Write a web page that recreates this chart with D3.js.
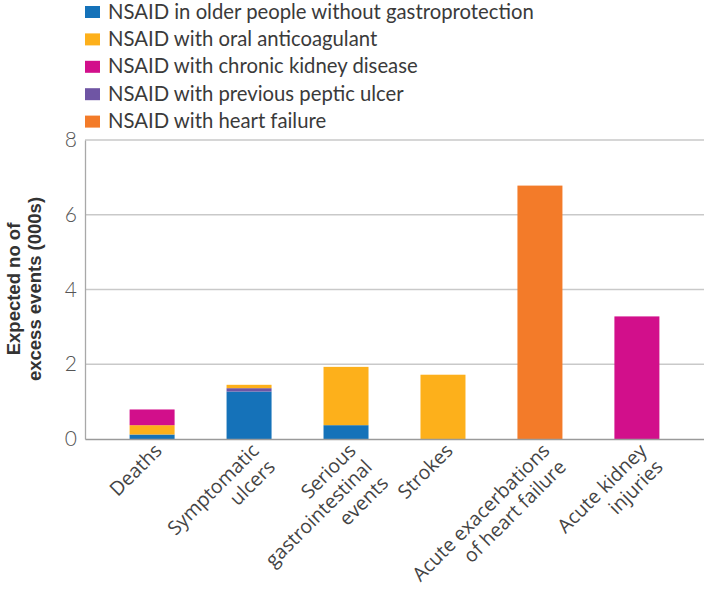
<!DOCTYPE html>
<html>
<head>
<meta charset="utf-8">
<script src="https://cdn.jsdelivr.net/npm/d3@7"></script>
<style>
  html, body { margin: 0; padding: 0; background: #fff; }
  svg { display: block; }
</style>
</head>
<body>
<svg id="chart" width="704" height="602"></svg>
<script>
// ---- data ----
const categories = ["Deaths", "Symptomatic ulcers", "Serious gastrointestinal events", "Strokes", "Acute exacerbations of heart failure", "Acute kidney injuries"];
const categoryLabelLines = [["Deaths"], ["Symptomatic", "ulcers"], ["Serious", "gastrointestinal", "events"], ["Strokes"], ["Acute exacerbations", "of heart failure"], ["Acute kidney", "injuries"]];
const seriesNames = ["NSAID in older people without gastroprotection", "NSAID with oral anticoagulant", "NSAID with chronic kidney disease", "NSAID with previous peptic ulcer", "NSAID with heart failure"];
const seriesColors = ["#1572b9", "#fdb01b", "#d20f8b", "#6f55a4", "#f37b29"];
const olderNoGastro = [0.12, 1.27, 0.37, 0, 0, 0];
const oralAnticoagulant = [0.25, 0.09, 1.56, 1.72, 0, 0];
const chronicKidney = [0.42, 0, 0, 0, 0, 3.28];
const pepticUlcer = [0, 0.09, 0, 0, 0, 0];
const heartFailure = [0, 0, 0, 0, 6.78, 0];
const yTicks = [0, 2, 4, 6, 8];
const yTitleLines = ["Expected no of", "excess events (000s)"];
// stacking order bottom -> top
const stackOrder = [0, 3, 1, 2, 4];

const seriesValues = [olderNoGastro, oralAnticoagulant, chronicKidney, pepticUlcer, heartFailure];
const table = categories.map((c, i) => {
  const row = { category: c };
  seriesNames.forEach((s, j) => row[s] = seriesValues[j][i]);
  return row;
});

const svg = d3.select("#chart");
const plotLeft = 85, plotRight = 704, plotTop = 140, plotBottom = 439;

const x = d3.scaleBand().domain(categories).range([plotLeft, plotRight]).paddingInner(0.536).paddingOuter(0.46);
const y = d3.scaleLinear().domain([0, 8]).range([plotBottom, plotTop]);

// gridlines
svg.append("g").selectAll("line").data(yTicks.filter(d => d > 0)).join("line")
  .attr("x1", plotLeft).attr("x2", plotRight)
  .attr("y1", d => y(d)).attr("y2", d => y(d))
  .attr("stroke", "#c9c9c9").attr("stroke-width", 1.3);

// y axis
const yAxis = d3.axisLeft(y).tickValues(yTicks).tickSize(0).tickPadding(8).tickFormat(d3.format("d"));
const yg = svg.append("g").attr("transform", `translate(${plotLeft},0)`).call(yAxis);
yg.select(".domain").attr("stroke", "#a8a8a8").attr("stroke-width", 1.3);
yg.selectAll("text").attr("font-family", "Lato, 'Open Sans', sans-serif").attr("font-size", 21)
  .attr("fill", "#555").attr("font-weight", 300);

// stacked bars
const keys = stackOrder.map(i => seriesNames[i]);
const stacked = d3.stack().keys(keys)(table);
svg.append("g").selectAll("g").data(stacked).join("g")
  .attr("fill", d => seriesColors[seriesNames.indexOf(d.key)])
  .selectAll("rect").data(d => d.filter(p => p[1] - p[0] > 0)).join("rect")
  .attr("x", d => x(d.data.category))
  .attr("width", x.bandwidth())
  .attr("y", d => y(d[1]))
  .attr("height", d => y(d[0]) - y(d[1]));

// baseline (x axis)
const xAxis = d3.axisBottom(x).tickSize(0).tickFormat("");
const xg = svg.append("g").attr("transform", `translate(0,${y(0)})`).call(xAxis);
xg.select(".domain").attr("stroke", "#9a9a9a").attr("stroke-width", 1.5);

// x labels, rotated
const lab = svg.append("g").selectAll("text").data(categories).join("text")
  .attr("transform", d => `translate(${x(d) + x.bandwidth() / 2 + 11},${y(0) + 13}) rotate(-45)`)
  .attr("text-anchor", "end")
  .attr("font-family", "'Open Sans', sans-serif")
  .attr("font-size", 19.5)
  .attr("fill", "#444");
lab.each(function (d, i) {
  d3.select(this).selectAll("tspan").data(categoryLabelLines[i]).join("tspan")
    .attr("x", 0).attr("dy", (t, k) => k === 0 ? 0 : 23).text(t => t);
});

// y title
const yt = svg.append("text")
  .attr("transform", `translate(20,289) rotate(-90)`)
  .attr("text-anchor", "middle")
  .attr("font-family", "'Liberation Sans', Arial, sans-serif")
  .attr("font-weight", "bold")
  .attr("font-size", 18.5)
  .attr("fill", "#333");
yt.selectAll("tspan").data(yTitleLines).join("tspan")
  .attr("x", 0).attr("dy", (t, k) => k === 0 ? 0 : 21).text(t => t);

// legend
const lg = svg.append("g").selectAll("g").data(seriesNames).join("g")
  .attr("transform", (d, i) => `translate(85,${18.5 + i * 27.4})`);
lg.append("rect").attr("x", 0).attr("y", -12.5).attr("width", 15).attr("height", 12)
  .attr("fill", (d, i) => seriesColors[i]);
lg.append("text").attr("x", 23).attr("y", 0)
  .attr("font-family", "Lato, sans-serif").attr("font-size", 20.3)
  .attr("fill", "#3a3a3a").text(d => d);
</script>
</body>
</html>
